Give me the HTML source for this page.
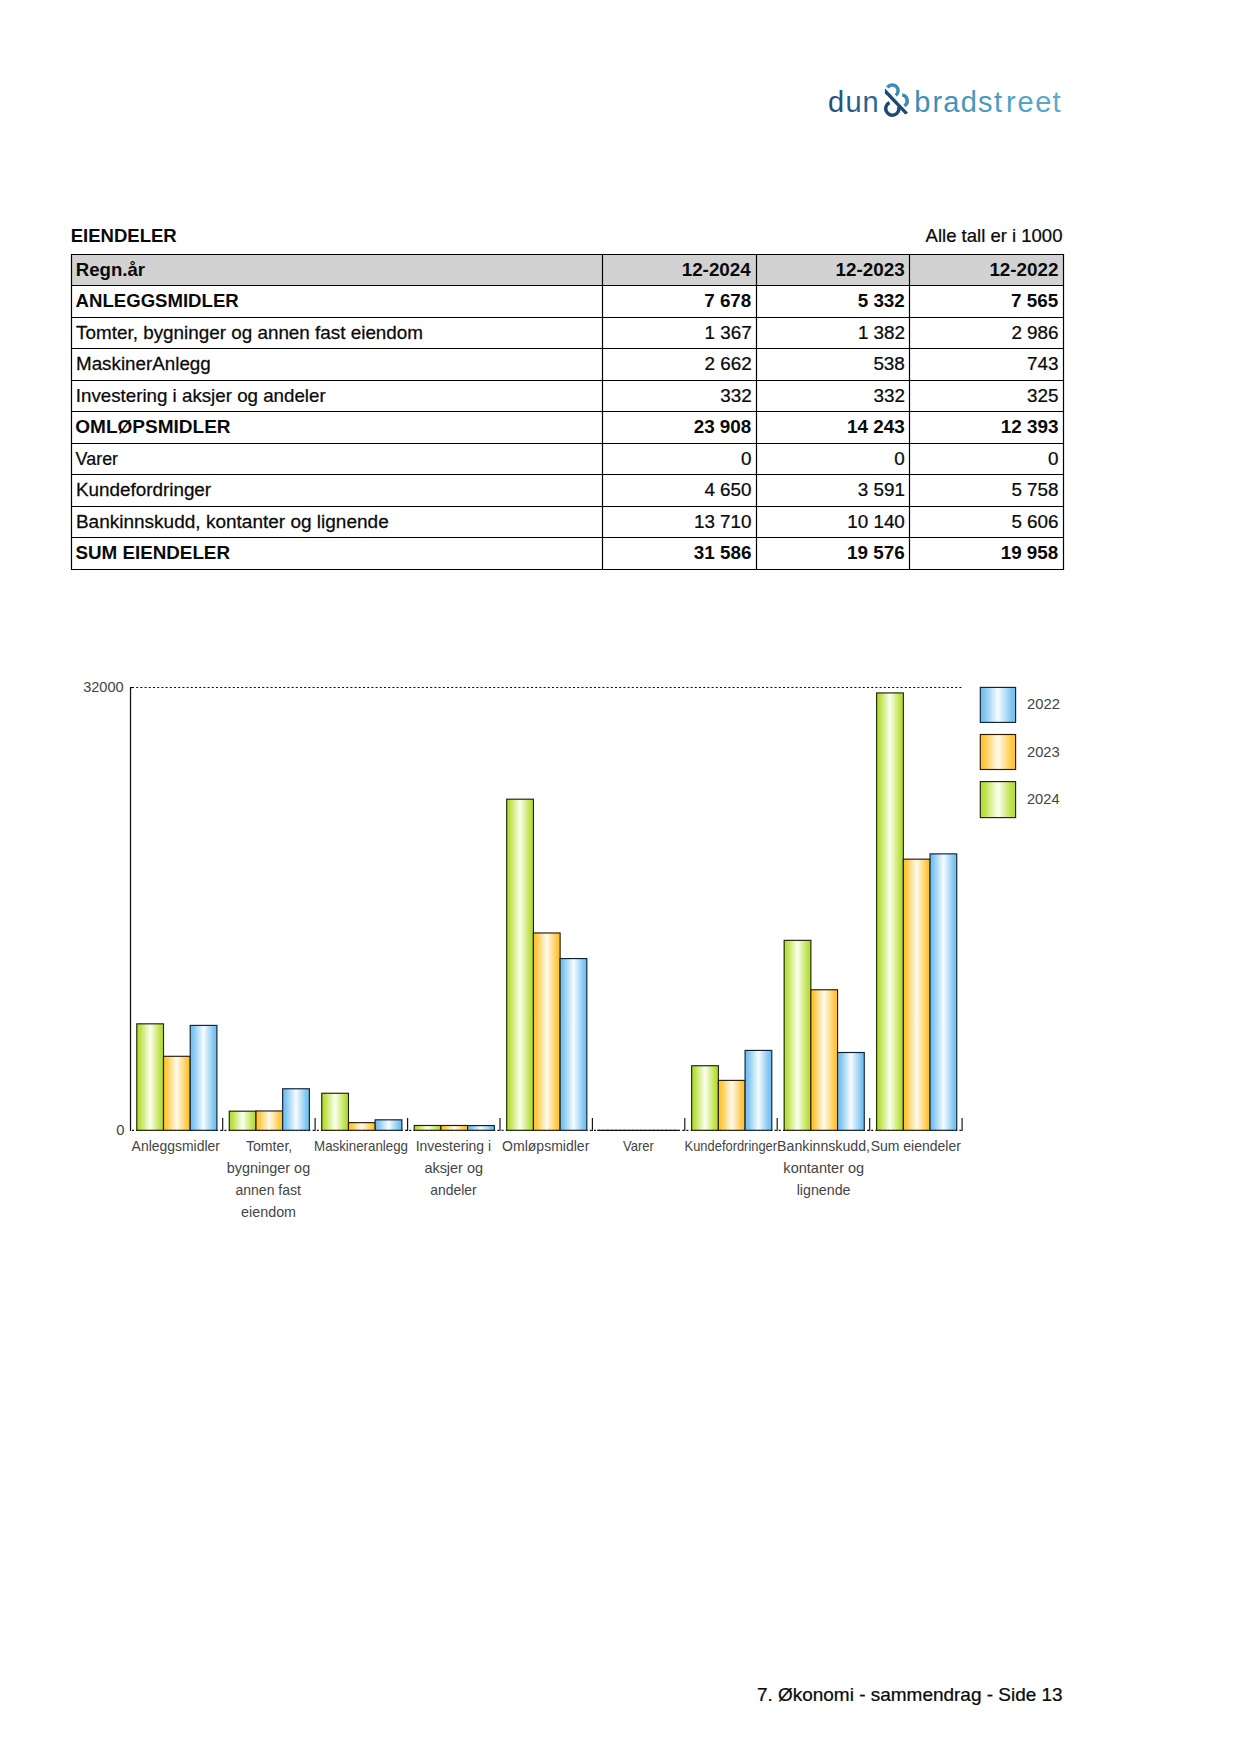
<!DOCTYPE html>
<html lang="no">
<head>
<meta charset="utf-8">
<title>7. Økonomi - sammendrag - Side 13</title>
<style>
html,body{margin:0;padding:0;background:#fff;}
body{width:1241px;height:1754px;overflow:hidden;font-family:"Liberation Sans",sans-serif;}
svg{display:block;}
text{font-family:"Liberation Sans",sans-serif;}
.t{font-size:18.75px;fill:#0a0a0a;stroke:#0a0a0a;stroke-width:0.25px;}
.t.b{stroke-width:0;}
.b{font-weight:bold;}
.c{font-size:14px;fill:#444;}
.logo{font-size:29px;}
</style>
</head>
<body>
<svg width="1241" height="1754" viewBox="0 0 1241 1754">
<defs>
<linearGradient id="gG" x1="0" x2="1" y1="0" y2="0"><stop offset="0" stop-color="#b6dd38"/><stop offset="0.1" stop-color="#b9df3e"/><stop offset="0.5" stop-color="#fcfff0"/><stop offset="0.9" stop-color="#b9df3e"/><stop offset="1" stop-color="#b6dd38"/></linearGradient>
<linearGradient id="gO" x1="0" x2="1" y1="0" y2="0"><stop offset="0" stop-color="#ffc435"/><stop offset="0.1" stop-color="#ffc63c"/><stop offset="0.5" stop-color="#fffbf0"/><stop offset="0.9" stop-color="#ffc63c"/><stop offset="1" stop-color="#ffc435"/></linearGradient>
<linearGradient id="gB" x1="0" x2="1" y1="0" y2="0"><stop offset="0" stop-color="#76c0ef"/><stop offset="0.1" stop-color="#7cc3f0"/><stop offset="0.5" stop-color="#f7fcff"/><stop offset="0.9" stop-color="#7cc3f0"/><stop offset="1" stop-color="#76c0ef"/></linearGradient>
<linearGradient id="gL1" gradientUnits="userSpaceOnUse" x1="828" x2="878" y1="0" y2="0"><stop offset="0" stop-color="#1f4e79"/><stop offset="1" stop-color="#2f6a96"/></linearGradient>
<linearGradient id="gL2" gradientUnits="userSpaceOnUse" x1="916" x2="1061" y1="0" y2="0"><stop offset="0" stop-color="#3a8bb3"/><stop offset="1" stop-color="#5aaccc"/></linearGradient>
</defs>
<g class="logo" aria-label="dun &amp; bradstreet">
<text x="828.05 845.39 862.59" y="111.5" fill="url(#gL1)">dun</text>
<text x="914.17 932.39 943.29 960.65 978.08 993.92 1005.89 1017.47 1035.17 1052.62" y="111.6" fill="url(#gL2)">bradstreet</text>
<g fill="none" stroke-width="3.5">
<path d="M887.44 87.54 A5.8 5.8 0 1 1 895.71 95.39" stroke="#3f8db4"/>
<path d="M902.22 94.87 A5.9 5.9 0 0 1 904.34 105.76" stroke="#3a8ea8"/>
<path d="M889.58 102.58 A6.6 6.6 0 1 0 898.68 106.89" stroke="#1e4b76"/>
<path d="M884.85 88.8 L884.85 93.3 L905.15 114.6 L908.05 112.65 L885.35 88.8 Z" fill="#1d4872" stroke="none"/>
</g></g>
<rect x="71.5" y="254.5" width="992" height="31" fill="#d2d2d2"/>
<g stroke="#000" stroke-width="1.2" fill="none">
<line x1="71" x2="1064" y1="254.5" y2="254.5"/>
<line x1="71" x2="1064" y1="285.5" y2="285.5"/>
<line x1="71" x2="1064" y1="317.5" y2="317.5"/>
<line x1="71" x2="1064" y1="348.5" y2="348.5"/>
<line x1="71" x2="1064" y1="380.5" y2="380.5"/>
<line x1="71" x2="1064" y1="411.5" y2="411.5"/>
<line x1="71" x2="1064" y1="443.5" y2="443.5"/>
<line x1="71" x2="1064" y1="474.5" y2="474.5"/>
<line x1="71" x2="1064" y1="506.5" y2="506.5"/>
<line x1="71" x2="1064" y1="537.5" y2="537.5"/>
<line x1="71" x2="1064" y1="569.5" y2="569.5"/>
<line x1="71.5" x2="71.5" y1="254" y2="570"/>
<line x1="602.5" x2="602.5" y1="254" y2="570"/>
<line x1="756.5" x2="756.5" y1="254" y2="570"/>
<line x1="909.5" x2="909.5" y1="254" y2="570"/>
<line x1="1063.5" x2="1063.5" y1="254" y2="570"/>
</g>
<g stroke="#111" stroke-width="1.2" fill="none">
<line x1="132.0" x2="962.4" y1="687.5" y2="687.5" stroke-dasharray="2 2.2"/>
<line x1="132.0" x2="962.4" y1="1130.3" y2="1130.3" stroke-dasharray="2 2.2"/>
<path d="M132.0 687.5 L130.5 687.5 L130.5 1130.8999999999999" stroke-width="1.25"/>
<line x1="597.2" x2="678" y1="1130.3" y2="1130.3" stroke-width="1.3"/>
<line x1="222.7" x2="222.7" y1="1118" y2="1130.8999999999999" stroke-width="1.15"/>
<line x1="315.1" x2="315.1" y1="1118" y2="1130.8999999999999" stroke-width="1.15"/>
<line x1="407.6" x2="407.6" y1="1118" y2="1130.8999999999999" stroke-width="1.15"/>
<line x1="500.0" x2="500.0" y1="1118" y2="1130.8999999999999" stroke-width="1.15"/>
<line x1="592.4" x2="592.4" y1="1118" y2="1130.8999999999999" stroke-width="1.15"/>
<line x1="684.8" x2="684.8" y1="1118" y2="1130.8999999999999" stroke-width="1.15"/>
<line x1="777.2" x2="777.2" y1="1118" y2="1130.8999999999999" stroke-width="1.15"/>
<line x1="869.7" x2="869.7" y1="1118" y2="1130.8999999999999" stroke-width="1.15"/>
<line x1="962.1" x2="962.1" y1="1118" y2="1130.8999999999999" stroke-width="1.15"/>
</g>
<g stroke="#111" stroke-width="1.15">
<rect x="136.80" y="1023.83" width="26.7" height="106.47" fill="url(#gG)" stroke="#1a2406"/>
<rect x="163.50" y="1056.30" width="26.7" height="74.00" fill="url(#gO)" stroke="#2a1a05"/>
<rect x="190.20" y="1025.40" width="26.7" height="104.90" fill="url(#gB)" stroke="#0c2233"/>
<rect x="229.28" y="1111.18" width="26.7" height="19.12" fill="url(#gG)" stroke="#1a2406"/>
<rect x="255.98" y="1110.97" width="26.7" height="19.33" fill="url(#gO)" stroke="#2a1a05"/>
<rect x="282.68" y="1088.77" width="26.7" height="41.53" fill="url(#gB)" stroke="#0c2233"/>
<rect x="321.76" y="1093.26" width="26.7" height="37.04" fill="url(#gG)" stroke="#1a2406"/>
<rect x="348.46" y="1122.65" width="26.7" height="7.65" fill="url(#gO)" stroke="#2a1a05"/>
<rect x="375.16" y="1119.82" width="26.7" height="10.48" fill="url(#gB)" stroke="#0c2233"/>
<rect x="414.24" y="1125.50" width="26.7" height="4.80" fill="url(#gG)" stroke="#1a2406"/>
<rect x="440.94" y="1125.50" width="26.7" height="4.80" fill="url(#gO)" stroke="#2a1a05"/>
<rect x="467.64" y="1125.60" width="26.7" height="4.70" fill="url(#gB)" stroke="#0c2233"/>
<rect x="506.72" y="799.20" width="26.7" height="331.10" fill="url(#gG)" stroke="#1a2406"/>
<rect x="533.42" y="932.97" width="26.7" height="197.33" fill="url(#gO)" stroke="#2a1a05"/>
<rect x="560.12" y="958.57" width="26.7" height="171.73" fill="url(#gB)" stroke="#0c2233"/>
<rect x="691.68" y="1065.74" width="26.7" height="64.56" fill="url(#gG)" stroke="#1a2406"/>
<rect x="718.38" y="1080.40" width="26.7" height="49.90" fill="url(#gO)" stroke="#2a1a05"/>
<rect x="745.08" y="1050.41" width="26.7" height="79.89" fill="url(#gB)" stroke="#0c2233"/>
<rect x="784.16" y="940.35" width="26.7" height="189.95" fill="url(#gG)" stroke="#1a2406"/>
<rect x="810.86" y="989.76" width="26.7" height="140.54" fill="url(#gO)" stroke="#2a1a05"/>
<rect x="837.56" y="1052.51" width="26.7" height="77.79" fill="url(#gB)" stroke="#0c2233"/>
<rect x="876.64" y="692.93" width="26.7" height="437.37" fill="url(#gG)" stroke="#1a2406"/>
<rect x="903.34" y="859.16" width="26.7" height="271.14" fill="url(#gO)" stroke="#2a1a05"/>
<rect x="930.04" y="853.87" width="26.7" height="276.43" fill="url(#gB)" stroke="#0c2233"/>
<rect x="980.3" y="687.4" width="35.3" height="35.0" fill="url(#gB)" stroke="#0c2233"/>
<rect x="980.3" y="734.5" width="35.3" height="35.0" fill="url(#gO)" stroke="#2a1a05"/>
<rect x="980.3" y="781.6" width="35.3" height="36.0" fill="url(#gG)" stroke="#1a2406"/>
</g>
<text class="t b" transform="translate(70.71 241.8) scale(0.9880 1)">EIENDELER</text>
<text class="t" transform="translate(925.60 241.8) scale(0.9877 1)">Alle tall er i 1000</text>
<text class="t b" transform="translate(75.71 276.0) scale(0.9940 1)">Regn.år</text>
<text class="t b" transform="translate(681.67 276.0) scale(1.0050 1)">12-2024</text>
<text class="t b" transform="translate(835.58 276.0) scale(1.0050 1)">12-2023</text>
<text class="t b" transform="translate(989.38 276.0) scale(1.0050 1)">12-2022</text>
<text class="t b" transform="translate(75.60 307.0) scale(0.9918 1)">ANLEGGSMIDLER</text>
<text class="t b" transform="translate(704.18 307.0) scale(1.0050 1)">7 678</text>
<text class="t b" transform="translate(857.68 307.0) scale(1.0050 1)">5 332</text>
<text class="t b" transform="translate(1011.07 307.0) scale(1.0050 1)">7 565</text>
<text class="t" transform="translate(76.10 339.0) scale(1.0061 1)">Tomter, bygninger og annen fast eiendom</text>
<text class="t" transform="translate(704.58 339.0) scale(1.0050 1)">1 367</text>
<text class="t" transform="translate(857.88 339.0) scale(1.0050 1)">1 382</text>
<text class="t" transform="translate(1011.38 339.0) scale(1.0050 1)">2 986</text>
<text class="t" transform="translate(76.00 370.0) scale(1.0029 1)">MaskinerAnlegg</text>
<text class="t" transform="translate(704.58 370.0) scale(1.0050 1)">2 662</text>
<text class="t" transform="translate(873.39 370.0) scale(1.0050 1)">538</text>
<text class="t" transform="translate(1027.09 370.0) scale(1.0050 1)">743</text>
<text class="t" transform="translate(75.80 402.0) scale(0.9992 1)">Investering i aksjer og andeler</text>
<text class="t" transform="translate(720.29 402.0) scale(1.0050 1)">332</text>
<text class="t" transform="translate(873.59 402.0) scale(1.0050 1)">332</text>
<text class="t" transform="translate(1027.09 402.0) scale(1.0050 1)">325</text>
<text class="t b" transform="translate(75.29 433.0) scale(1.0152 1)">OMLØPSMIDLER</text>
<text class="t b" transform="translate(693.70 433.0) scale(1.0050 1)">23 908</text>
<text class="t b" transform="translate(847.10 433.0) scale(1.0050 1)">14 243</text>
<text class="t b" transform="translate(1000.80 433.0) scale(1.0050 1)">12 393</text>
<text class="t" transform="translate(75.60 465.0) scale(0.9567 1)">Varer</text>
<text class="t" transform="translate(741.05 465.0) scale(1.0050 1)">0</text>
<text class="t" transform="translate(894.35 465.0) scale(1.0050 1)">0</text>
<text class="t" transform="translate(1048.05 465.0) scale(1.0050 1)">0</text>
<text class="t" transform="translate(75.89 496.0) scale(1.0066 1)">Kundefordringer</text>
<text class="t" transform="translate(704.38 496.0) scale(1.0050 1)">4 650</text>
<text class="t" transform="translate(857.78 496.0) scale(1.0050 1)">3 591</text>
<text class="t" transform="translate(1011.38 496.0) scale(1.0050 1)">5 758</text>
<text class="t" transform="translate(75.88 528.0) scale(1.0146 1)">Bankinnskudd, kontanter og lignende</text>
<text class="t" transform="translate(693.90 528.0) scale(1.0050 1)">13 710</text>
<text class="t" transform="translate(847.20 528.0) scale(1.0050 1)">10 140</text>
<text class="t" transform="translate(1011.38 528.0) scale(1.0050 1)">5 606</text>
<text class="t b" transform="translate(75.40 559.0) scale(1.0036 1)">SUM EIENDELER</text>
<text class="t b" transform="translate(693.80 559.0) scale(1.0050 1)">31 586</text>
<text class="t b" transform="translate(847.10 559.0) scale(1.0050 1)">19 576</text>
<text class="t b" transform="translate(1000.70 559.0) scale(1.0050 1)">19 958</text>
<text class="c" transform="translate(131.60 1150.7) scale(0.9961 1)">Anleggsmidler</text>
<text class="c" transform="translate(245.90 1150.7) scale(1.0109 1)">Tomter,</text>
<text class="c" transform="translate(226.67 1172.7) scale(1.0320 1)">bygninger og</text>
<text class="c" transform="translate(235.50 1194.7) scale(1.0001 1)">annen fast</text>
<text class="c" transform="translate(241.09 1216.7) scale(1.0241 1)">eiendom</text>
<text class="c" transform="translate(314.05 1150.7) scale(0.9510 1)">Maskineranlegg</text>
<text class="c" transform="translate(415.70 1150.7) scale(0.9990 1)">Investering i</text>
<text class="c" transform="translate(424.38 1172.7) scale(1.0339 1)">aksjer og</text>
<text class="c" transform="translate(430.20 1194.7) scale(0.9969 1)">andeler</text>
<text class="c" transform="translate(502.10 1150.7) scale(1.0028 1)">Omløpsmidler</text>
<text class="c" transform="translate(622.90 1150.7) scale(0.9354 1)">Varer</text>
<text class="c" transform="translate(684.59 1150.7) scale(0.9220 1)">Kundefordringer</text>
<text class="c" transform="translate(777.09 1150.7) scale(1.0128 1)">Bankinnskudd,</text>
<text class="c" transform="translate(783.37 1172.7) scale(1.0388 1)">kontanter og</text>
<text class="c" transform="translate(796.68 1194.7) scale(1.0184 1)">lignende</text>
<text class="c" transform="translate(870.70 1150.7) scale(0.9987 1)">Sum eiendeler</text>
<text class="c" transform="translate(1026.96 709.3) scale(1.0585 1)">2022</text>
<text class="c" transform="translate(1026.96 757.1) scale(1.0550 1)">2023</text>
<text class="c" transform="translate(1026.97 803.5) scale(1.0480 1)">2024</text>
<text class="c" transform="translate(83.18 691.8) scale(1.0410 1)">32000</text>
<text class="c" transform="translate(116.16 1134.9) scale(1.0600 1)">0</text>
<text class="t" transform="translate(756.89 1701.0) scale(1.0117 1)">7. Økonomi - sammendrag - Side 13</text>
</svg>
</body>
</html>
